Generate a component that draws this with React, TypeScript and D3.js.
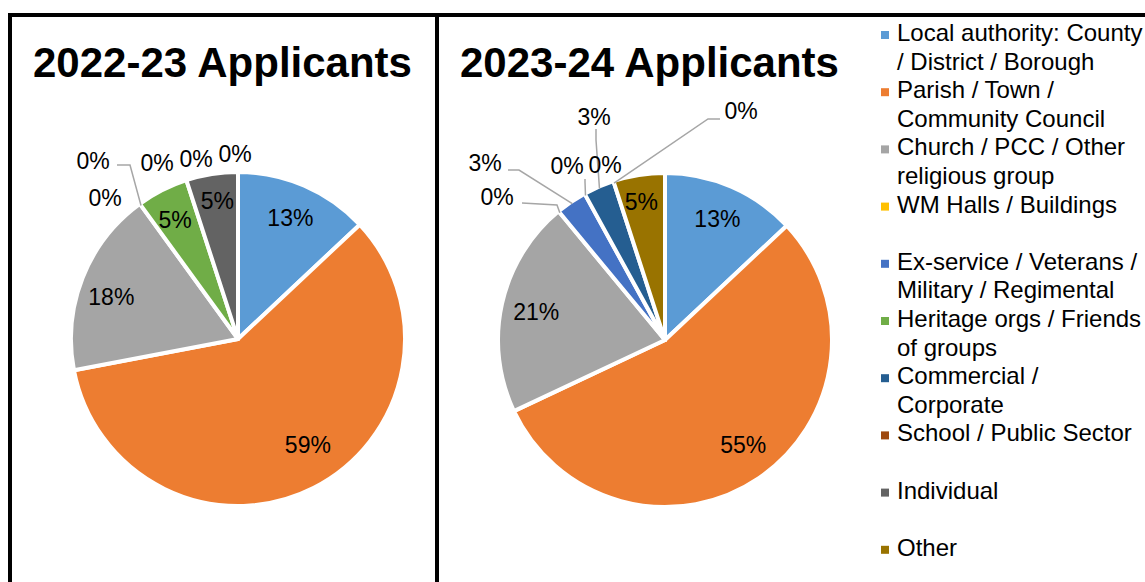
import React from "react";
import * as d3 from "d3";

const categories = [
  "Local authority: County / District / Borough",
  "Parish / Town / Community Council",
  "Church / PCC / Other religious group",
  "WM Halls / Buildings",
  "Ex-service / Veterans / Military / Regimental",
  "Heritage orgs / Friends of groups",
  "Commercial / Corporate",
  "School / Public Sector",
  "Individual",
  "Other",
];
const legendLines = [
  ["Local authority: County", "/ District / Borough"],
  ["Parish / Town /", "Community Council"],
  ["Church / PCC / Other", "religious group"],
  ["WM Halls / Buildings"],
  ["Ex-service / Veterans /", "Military / Regimental"],
  ["Heritage orgs / Friends", "of groups"],
  ["Commercial /", "Corporate"],
  ["School / Public Sector"],
  ["Individual"],
  ["Other"],
];
const values2022 = [13, 59, 18, 0, 0, 5, 0, 0, 5, 0];
const values2023 = [13, 55, 21, 0, 3, 0, 3, 0, 0, 5];
const titles = ["2022-23 Applicants", "2023-24 Applicants"];

const colors = [
  "#5B9BD5", "#ED7D31", "#A5A5A5", "#FFC000", "#4472C4",
  "#70AD47", "#255E91", "#9E480E", "#636363", "#997300",
];

// Layout for labels placed outside the pie (offsets relative to pie centre)
type OutLabel = { i: number; dx: number; dy: number; leader?: [number, number][] };
const outside2022: OutLabel[] = [
  { i: 3, dx: -133, dy: -141 },
  { i: 4, dx: -145, dy: -178, leader: [[-121, -174], [-108, -174]] },
  { i: 6, dx: -81, dy: -176 },
  { i: 7, dx: -42, dy: -180 },
  { i: 9, dx: -3, dy: -185 },
];
const outside2023: OutLabel[] = [
  { i: 3, dx: -168, dy: -143, leader: [[-143, -137], [-108, -135]] },
  { i: 4, dx: -180, dy: -177, leader: [[-157, -170], [-146, -170]] },
  { i: 5, dx: -98, dy: -174, leader: [[-80, -161], [-80, -158]] },
  { i: 6, dx: -71, dy: -223, leader: [[-69, -211], [-69, -200]] },
  { i: 7, dx: -60, dy: -175 },
  { i: 8, dx: 76, dy: -229, leader: [[55, -221], [43, -221]] },
];
// small nudges for inside labels (index -> [dx, dy])
const nudge2022: Record<number, [number, number]> = { 1: [10, -12], 2: [-4, 6], 5: [-3, -2], 8: [0, -8] };
const nudge2023: Record<number, [number, number]> = { 1: [4, -4], 9: [-3, -8] };

const FONT = "'Liberation Sans', Arial, sans-serif";

function Pie({ cx, cy, r, values, outside, nudge }: { cx: number; cy: number; r: number; values: number[]; outside: OutLabel[]; nudge: Record<number, [number, number]> }) {
  const pie = d3.pie<number>().sort(null).value((d) => d)(values);
  const arc = d3.arc<d3.PieArcDatum<number>>().innerRadius(0).outerRadius(r);
  const labelArc = d3.arc<d3.PieArcDatum<number>>().innerRadius(r * 0.79).outerRadius(r * 0.79);
  const edgeArc = d3.arc<d3.PieArcDatum<number>>().innerRadius(r - 2).outerRadius(r - 2);
  const outSet = new Set(outside.map((o) => o.i));
  return (
    <g transform={`translate(${cx},${cy})`}>
      {pie.map((p, k) =>
        p.value > 0 ? (
          <path key={k} d={arc(p) || ""} fill={colors[k]} stroke="#fff" strokeWidth={4} strokeLinejoin="round" />
        ) : null
      )}
      {pie.map((p, k) => {
        if (p.value <= 0 || outSet.has(k)) return null;
        const [x, y] = labelArc.centroid(p);
        const n = nudge[k] || [0, 0];
        return (
          <text key={"l" + k} x={x + n[0]} y={y + n[1]} dy="0.36em" textAnchor="middle" fontFamily={FONT} fontSize={23} fill="#000">
            {p.value}%
          </text>
        );
      })}
      {outside.map((o, k) => {
        const p = pie[o.i];
        const [ex, ey] = edgeArc.centroid(p);
        const pts = o.leader ? [...o.leader, [ex, ey] as [number, number]] : null;
        return (
          <g key={"o" + k}>
            {pts && (
              <polyline points={pts.map((q) => q.join(",")).join(" ")} fill="none" stroke="#A6A6A6" strokeWidth={1.5} />
            )}
            <text x={o.dx} y={o.dy} dy="0.36em" textAnchor="middle" fontFamily={FONT} fontSize={23} fill="#000">
              {p.value}%
            </text>
          </g>
        );
      })}
    </g>
  );
}

export default function App() {
  const lineH = 28.6;
  return (
    <svg width={1145} height={582} style={{ position: "absolute", left: 0, top: 0, background: "#fff" }}>
      <rect x={0} y={0} width={1145} height={582} fill="#fff" />
      <line x1={8} y1={15} x2={1145} y2={15} stroke="#000" strokeWidth={4} />
      <line x1={10} y1={13} x2={10} y2={582} stroke="#000" strokeWidth={4} />
      <line x1={437} y1={13} x2={437} y2={582} stroke="#000" strokeWidth={4} />
      <text x={33} y={77} fontFamily={FONT} fontWeight="bold" fontSize={42} fill="#000">{titles[0]}</text>
      <text x={460} y={77} fontFamily={FONT} fontWeight="bold" fontSize={42} fill="#000">{titles[1]}</text>
      <Pie cx={238} cy={339} r={167} values={values2022} outside={outside2022} nudge={nudge2022} />
      <Pie cx={665} cy={340} r={167} values={values2023} outside={outside2023} nudge={nudge2023} />
      <g>
        {categories.map((c, i) => {
          const base = 41 + i * 2 * lineH;
          return (
            <g key={c}>
              <rect x={881} y={base - 10} width={8} height={8} fill={colors[i]} />
              <text fontFamily={FONT} fontSize={24} fill="#000">
                {legendLines[i].map((ln, j) => (
                  <tspan key={j} x={897} y={base + j * lineH}>{ln}</tspan>
                ))}
              </text>
            </g>
          );
        })}
      </g>
    </svg>
  );
}
